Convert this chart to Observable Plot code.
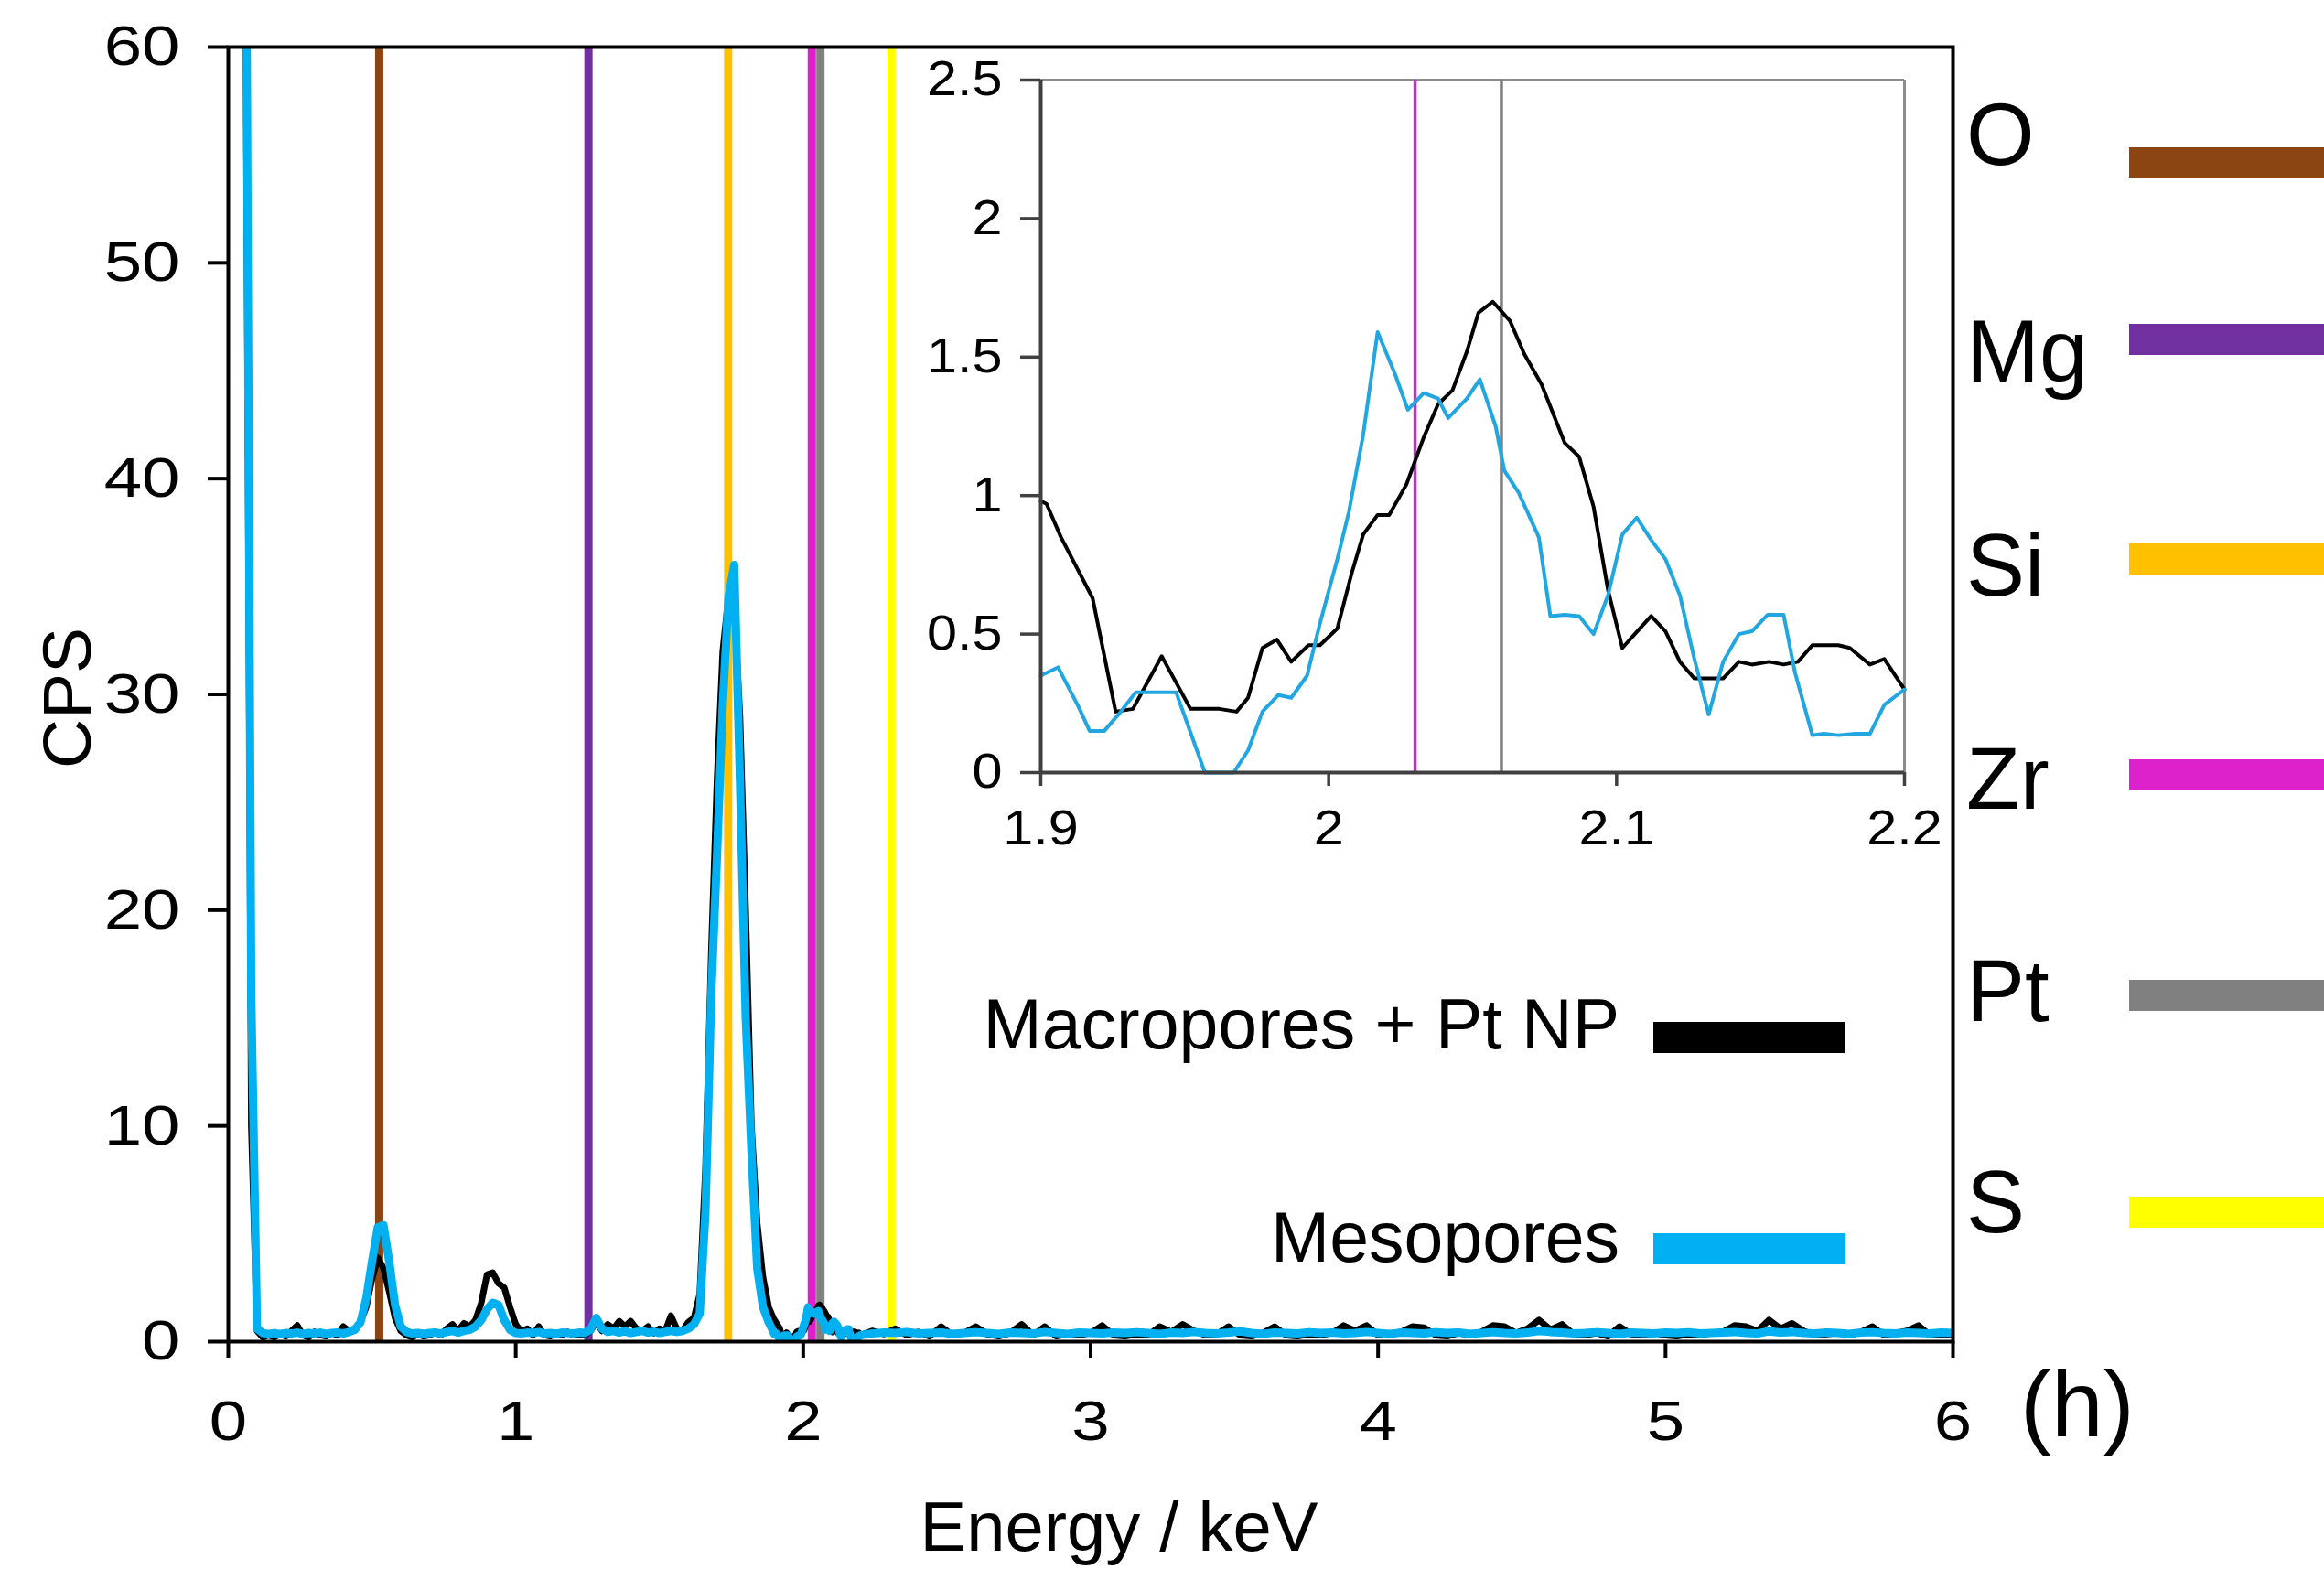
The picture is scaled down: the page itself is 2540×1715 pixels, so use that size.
<!DOCTYPE html>
<html>
<head>
<meta charset="utf-8">
<script src="https://cdn.jsdelivr.net/npm/d3@7"></script>
<script src="https://cdn.jsdelivr.net/npm/@observablehq/plot@0.6"></script>
<style>
  html, body { margin: 0; padding: 0; background: #fff; }
  #wrap { position: relative; width: 2540px; height: 1715px; overflow: hidden; background: #fff; }
  #wrap svg { position: absolute; max-width: none; }
</style>
</head>
<body>
<div id="wrap"></div>
<script>
// ---------------- DATA ----------------
const FONT = "'Liberation Sans', Arial, Helvetica, sans-serif";

// Main spectrum, part A: 0.04 .. 1.88 keV, step 0.02
const gridAStart = 0.04, gridAStep = 0.02;
const macroA = [
  110, 64, 10, 0.5, 0.2, 0.3, 0.2, 0.35, 0.25, 0.5,
  0.75, 0.3, 0.2, 0.45, 0.3, 0.25, 0.4, 0.3, 0.7, 0.5,
  0.6, 0.9, 1.6, 2.9, 3.9, 3.4, 2.3, 1.1, 0.5, 0.3,
  0.2, 0.35, 0.25, 0.3, 0.45, 0.3, 0.6, 0.8, 0.5, 0.85,
  0.7, 1.0, 1.8, 3.1, 3.2, 2.7, 2.5, 1.6, 0.8, 0.45,
  0.6, 0.3, 0.7, 0.3, 0.25, 0.4, 0.3, 0.45, 0.3, 0.35,
  0.3, 0.5, 0.9, 0.5, 0.8, 0.6, 0.95, 0.7, 0.95, 0.6,
  0.5, 0.7, 0.4, 0.6, 0.5, 1.2, 0.6, 0.5, 0.9, 1.1,
  2.2, 8.0, 18.0, 26.0, 32.0, 34.5, 34.0, 29.0, 20.0, 10.0,
  5.5, 3.0, 1.6
];
const mesoA = [
  120, 72, 16, 0.6, 0.4, 0.35, 0.4, 0.35, 0.4, 0.38,
  0.42, 0.36, 0.4, 0.38, 0.42, 0.36, 0.4, 0.42, 0.38, 0.45,
  0.55, 0.9, 2.0, 3.7, 5.3, 5.4, 3.7, 1.7, 0.7, 0.45,
  0.38, 0.4, 0.36, 0.4, 0.42, 0.38, 0.45, 0.5, 0.42, 0.5,
  0.55, 0.7, 1.0, 1.5, 1.8, 1.7, 1.0, 0.55, 0.4, 0.38,
  0.42, 0.4, 0.45, 0.38, 0.4, 0.36, 0.42, 0.4, 0.38, 0.42,
  0.4, 0.55, 1.1, 0.6, 0.45, 0.5, 0.42, 0.48, 0.4, 0.45,
  0.5, 0.42, 0.46, 0.4, 0.45, 0.5, 0.45, 0.5, 0.6, 0.8,
  1.3, 6.0, 16.0, 22.5, 29.5, 34.5, 36.0, 26.0, 15.0, 8.8,
  3.4, 1.6, 0.9
];

// Zoomed region 1.9 .. 2.2 keV (inset, also used in the main spectrum)
const insetMacroE = [1.900,1.902,1.907,1.918,1.926,1.932,1.942,1.952,1.962,1.968,1.972,1.977,1.982,1.987,1.993,1.997,2.003,2.008,2.012,2.017,2.021,2.027,2.033,2.038,2.043,2.048,2.052,2.057,2.063,2.068,2.074,2.082,2.087,2.092,2.097,2.102,2.112,2.117,2.122,2.127,2.137,2.1425,2.147,2.153,2.158,2.163,2.168,2.177,2.181,2.188,2.193,2.200];
const insetMacroCPS = [0.98,0.97,0.85,0.63,0.22,0.23,0.42,0.23,0.23,0.22,0.27,0.45,0.48,0.40,0.46,0.46,0.52,0.72,0.86,0.93,0.93,1.04,1.21,1.33,1.38,1.52,1.66,1.70,1.63,1.51,1.40,1.19,1.14,0.96,0.66,0.45,0.565,0.51,0.40,0.34,0.34,0.40,0.39,0.40,0.39,0.40,0.46,0.46,0.45,0.39,0.41,0.30];
const insetMesoE = [1.900,1.906,1.913,1.917,1.922,1.927,1.933,1.939,1.947,1.957,1.967,1.972,1.977,1.9825,1.987,1.9925,1.997,2.003,2.007,2.012,2.017,2.023,2.0275,2.033,2.038,2.0415,2.048,2.0525,2.058,2.061,2.066,2.073,2.077,2.082,2.087,2.092,2.097,2.102,2.107,2.112,2.117,2.122,2.127,2.132,2.137,2.1425,2.147,2.1525,2.158,2.162,2.168,2.172,2.177,2.183,2.188,2.193,2.200];
const insetMesoCPS = [0.35,0.38,0.24,0.15,0.15,0.21,0.29,0.29,0.29,0.0,0.0,0.08,0.22,0.28,0.27,0.35,0.54,0.77,0.94,1.22,1.59,1.44,1.31,1.37,1.35,1.28,1.35,1.42,1.25,1.09,1.01,0.85,0.565,0.57,0.565,0.50,0.64,0.86,0.92,0.84,0.77,0.64,0.41,0.21,0.40,0.50,0.51,0.57,0.57,0.36,0.135,0.14,0.135,0.14,0.14,0.245,0.30];

// Main spectrum, part B: 2.24 .. 6.00 keV, step 0.04
const gridBStart = 2.24, gridBStep = 0.04;
const macroB = [
  0.5, 0.35, 0.6, 0.3, 0.45, 0.25, 0.7, 0.3, 0.4, 0.7,
  0.35, 0.25, 0.4, 0.8, 0.3, 0.7, 0.25, 0.35, 0.3, 0.4,
  0.75, 0.3, 0.25, 0.35, 0.3, 0.7, 0.45, 0.8, 0.5, 0.3,
  0.35, 0.7, 0.3, 0.25, 0.4, 0.7, 0.3, 0.25, 0.35, 0.3,
  0.4, 0.75, 0.5, 0.75, 0.3, 0.35, 0.45, 0.7, 0.65, 0.3,
  0.25, 0.4, 0.3, 0.45, 0.75, 0.7, 0.4, 0.6, 1.0, 0.55,
  0.8, 0.35, 0.3, 0.4, 0.25, 0.7, 0.35, 0.3, 0.4, 0.3,
  0.25, 0.35, 0.3, 0.4, 0.45, 0.75, 0.7, 0.5, 1.0, 0.6,
  0.85, 0.5, 0.3, 0.35, 0.4, 0.3, 0.45, 0.7, 0.3, 0.4,
  0.5, 0.75, 0.3, 0.35, 0.3
];
const mesoB = [
  0.38, 0.42, 0.4, 0.45, 0.38, 0.4, 0.42, 0.36, 0.4, 0.44,
  0.4, 0.36, 0.42, 0.4, 0.38, 0.45, 0.4, 0.36, 0.42, 0.4,
  0.38, 0.42, 0.4, 0.44, 0.4, 0.36, 0.42, 0.4, 0.45, 0.4,
  0.38, 0.42, 0.48, 0.4, 0.36, 0.42, 0.4, 0.38, 0.44, 0.4,
  0.42, 0.38, 0.4, 0.45, 0.4, 0.36, 0.42, 0.4, 0.38, 0.44,
  0.4, 0.42, 0.36, 0.4, 0.44, 0.4, 0.38, 0.42, 0.5, 0.45,
  0.42, 0.38, 0.4, 0.44, 0.4, 0.36, 0.42, 0.4, 0.38, 0.42,
  0.4, 0.44, 0.38, 0.4, 0.42, 0.45, 0.4, 0.38, 0.48, 0.42,
  0.45, 0.4, 0.38, 0.42, 0.4, 0.36, 0.42, 0.44, 0.4, 0.38,
  0.42, 0.4, 0.38, 0.42, 0.4
];

// Element reference lines
const elementNames    = ["O", "Mg", "Si", "Zr", "Pt", "S"];
const elementEnergies = [0.525, 1.253, 1.739, 2.03, 2.06, 2.307];
const elementColors   = ["#8b4513", "#7030a0", "#ffc000", "#dd22cc", "#808080", "#ffff00"];

// Series
const seriesNames  = ["Macropores + Pt NP", "Mesopores"];
const seriesColors = ["#000000", "#00b0f0"];
const insetMesoColor = "#22a6e2";

// Ticks
const xTicks = [0, 1, 2, 3, 4, 5, 6];
const yTicks = [0, 10, 20, 30, 40, 50, 60];
const insetXTicks = [1.9, 2, 2.1, 2.2];
const insetYTicks = [0, 0.5, 1, 1.5, 2, 2.5];

// ---------------- BUILD ----------------
const rowsA = (vals) => vals.map((v, i) => ({e: +(gridAStart + i * gridAStep).toFixed(3), v}));
const rowsB = (vals) => vals.map((v, i) => ({e: +(gridBStart + i * gridBStep).toFixed(3), v}));
const rowsXY = (E, V) => E.map((e, i) => ({e, v: V[i]}));

const macroRows = [...rowsA(macroA), ...rowsXY(insetMacroE, insetMacroCPS), ...rowsB(macroB)];
const mesoRows  = [...rowsA(mesoA),  ...rowsXY(insetMesoE, insetMesoCPS),  ...rowsB(mesoB)];
const elements = elementNames.map((name, i) => ({name, energy: elementEnergies[i], color: elementColors[i]}));
const insetElements = elements.filter(d => d.energy >= 1.9 && d.energy <= 2.2);

function stretchTickLabels(svg, s) {
  svg.querySelectorAll('g[aria-label$="tick label"] text').forEach(t => {
    const x = parseFloat(t.getAttribute("x")) || 0;
    const tr = t.getAttribute("transform") || "";
    t.setAttribute("transform", `${tr} translate(${x},0) scale(${s},1) translate(${-x},0)`);
  });
}

const main = Plot.plot({
  width: 2540, height: 1715,
  marginLeft: 249, marginRight: 406, marginTop: 51, marginBottom: 249,
  x: {domain: [0, 6]},
  y: {domain: [0, 60]},
  color: {type: "identity"},
  style: {fontFamily: FONT, background: "transparent", overflow: "visible", color: "#000"},
  marks: [
    Plot.ruleX(elements, {x: "energy", stroke: "color", strokeWidth: 9}),
    Plot.line(macroRows, {x: "e", y: "v", stroke: seriesColors[0], strokeWidth: 7, strokeLinejoin: "round", clip: true}),
    Plot.line(mesoRows,  {x: "e", y: "v", stroke: seriesColors[1], strokeWidth: 9, strokeLinejoin: "round", clip: true}),
    Plot.frame({stroke: "#000", strokeWidth: 4}),
    Plot.axisX({ticks: xTicks, tickSize: 18, tickPadding: 45, strokeWidth: 4, fontSize: 62, label: null, tickFormat: d => String(d)}),
    Plot.axisY({ticks: yTicks, tickSize: 22, tickPadding: 31, strokeWidth: 4, fontSize: 62, label: null, tickFormat: d => String(d)})
  ]
});
main.style.left = "0px"; main.style.top = "0px";
stretchTickLabels(main, 1.2);

const inset = Plot.plot({
  width: 1121, height: 904,
  marginLeft: 137, marginRight: 40, marginTop: 47, marginBottom: 100,
  x: {domain: [1.9, 2.2]},
  y: {domain: [0, 2.5]},
  color: {type: "identity"},
  style: {fontFamily: FONT, background: "transparent", overflow: "visible", color: "#000"},
  marks: [
    Plot.ruleY([2.5], {stroke: "#8c8c8c", strokeWidth: 3}),
    Plot.ruleX([2.2], {stroke: "#8c8c8c", strokeWidth: 3}),
    Plot.ruleX(insetElements, {x: "energy", stroke: "color", strokeWidth: 3.5}),
    Plot.line(rowsXY(insetMacroE, insetMacroCPS), {x: "e", y: "v", stroke: seriesColors[0], strokeWidth: 4, strokeLinejoin: "round"}),
    Plot.line(rowsXY(insetMesoE, insetMesoCPS),   {x: "e", y: "v", stroke: insetMesoColor, strokeWidth: 4, strokeLinejoin: "round"}),
    Plot.ruleX([1.9], {stroke: "#404040", strokeWidth: 4}),
    Plot.ruleY([0], {stroke: "#404040", strokeWidth: 4}),
    Plot.axisX({ticks: insetXTicks, tickSize: 15, tickPadding: 26, stroke: "#404040", strokeWidth: 3.5, fontSize: 53, label: null, tickFormat: d => String(d)}),
    Plot.axisY({ticks: insetYTicks, tickSize: 22, tickPadding: 20, stroke: "#404040", strokeWidth: 3.5, fontSize: 53, label: null, tickFormat: d => String(d)})
  ]
});
inset.style.left = "1000px"; inset.style.top = "40px";
stretchTickLabels(inset, 1.12);

const wrap = document.getElementById("wrap");
wrap.appendChild(main);
wrap.appendChild(inset);

// ---------------- TEXT: titles, legends ----------------
const svg = d3.select(main);
const ann = svg.append("g").attr("font-family", FONT).attr("fill", "#000").attr("text-anchor", "start");

ann.append("text").attr("transform", "translate(99,763) rotate(-90)")
  .attr("text-anchor", "middle").attr("font-size", 75).text("CPS");
ann.append("text").attr("x", 1223).attr("y", 1695)
  .attr("text-anchor", "middle").attr("font-size", 76).text("Energy / keV");
ann.append("text").attr("x", 2208).attr("y", 1570)
  .attr("text-anchor", "start").attr("font-size", 102).text("(h)");

// series legend
const legendBaselines = [1146, 1379];
const legendBoxTops = [1117, 1348];
seriesNames.forEach((name, i) => {
  ann.append("text").attr("x", 1770).attr("y", legendBaselines[i])
    .attr("text-anchor", "end").attr("font-size", 77).text(name);
  ann.append("rect").attr("x", 1807).attr("y", legendBoxTops[i])
    .attr("width", 210).attr("height", 34).attr("fill", seriesColors[i]);
});

// element legend
const elemBaselines = [180, 417, 651, 884, 1116, 1347];
const elemBoxTops = [161, 354, 594, 830, 1071, 1308];
elementNames.forEach((name, i) => {
  ann.append("text").attr("x", 2149).attr("y", elemBaselines[i])
    .attr("text-anchor", "start").attr("font-size", 96).text(name);
  ann.append("rect").attr("x", 2327).attr("y", elemBoxTops[i])
    .attr("width", 213).attr("height", 34).attr("fill", elementColors[i]);
});
</script>
</body>
</html>
